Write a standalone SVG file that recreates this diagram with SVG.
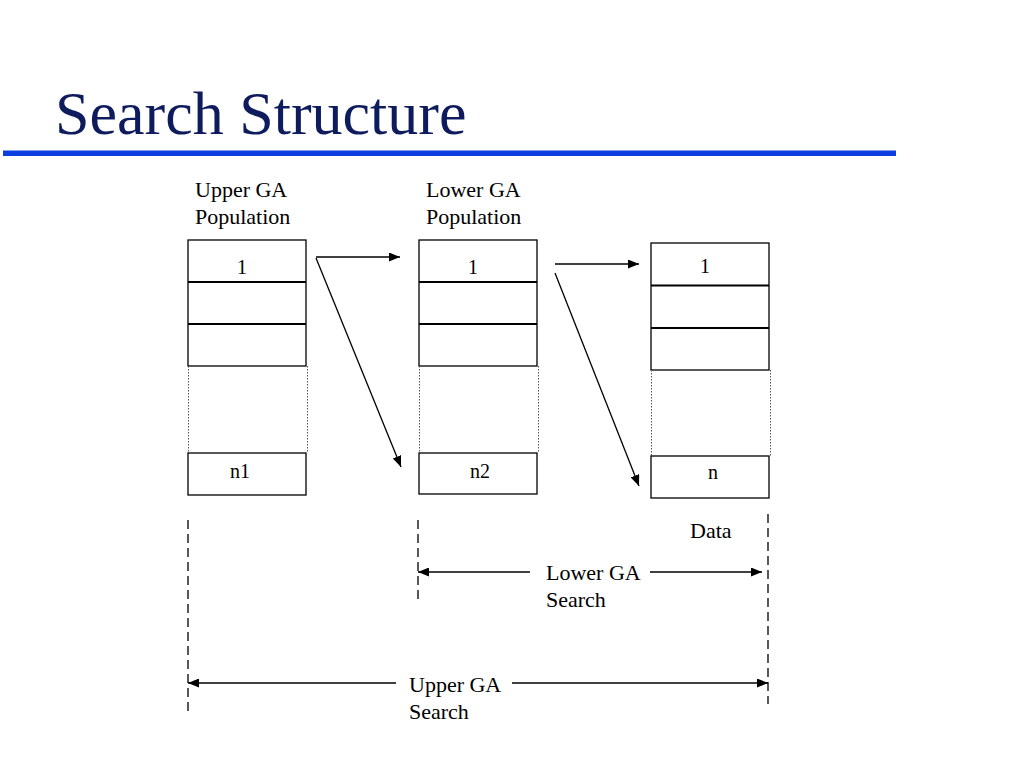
<svg xmlns="http://www.w3.org/2000/svg" width="1024" height="768" viewBox="0 0 1024 768">
<style>
  .t{font-family:"Liberation Serif","Times New Roman",serif;font-size:22px;fill:#000}
  .c{text-anchor:middle;font-size:20px}
  .box{fill:#fff;stroke:#000;stroke-width:1.3}
  .sep{stroke:#000;stroke-width:2.2}
  .dot{stroke:#555;stroke-width:1;stroke-dasharray:1.5 1.5;fill:none}
  .dash{stroke:#000;stroke-width:1.3;stroke-dasharray:9 5;fill:none}
  .ar{stroke:#000;stroke-width:1.3;fill:none;marker-end:url(#ah)}
  .ln{stroke:#000;stroke-width:1.3;fill:none}
</style>
<defs>
  <marker id="ah" viewBox="0 0 11 9" refX="11" refY="4.5" markerWidth="11" markerHeight="9" markerUnits="userSpaceOnUse" orient="auto-start-reverse">
    <path d="M0,0 L11,4.5 L0,9 Z" fill="#000"/>
  </marker>
</defs>
<rect width="1024" height="768" fill="#fff"/>
<g id="title">
  <text x="55" y="134" style="font-family:'Liberation Serif','Times New Roman',serif;font-size:62px;fill:#0e1c5e">Search Structure</text>
  <rect x="3" y="150.5" width="893" height="5.5" fill="#0b3fe0"/>
</g>
<g id="upper-population">
  <text class="t" x="195" y="197">Upper GA</text>
  <text class="t" x="195" y="224">Population</text>
  <rect class="box" x="188" y="240" width="118" height="126"/>
  <line class="sep" x1="188" y1="282" x2="306" y2="282"/>
  <line class="sep" x1="188" y1="324" x2="306" y2="324"/>
  <line class="dot" x1="188.5" y1="366" x2="188.5" y2="453"/>
  <line class="dot" x1="307.5" y1="366" x2="307.5" y2="453"/>
  <rect class="box" x="188" y="453" width="118" height="42"/>
  <text class="t c" x="242" y="274">1</text>
  <text class="t c" x="240" y="478">n1</text>
</g>
<g id="lower-population">
  <text class="t" x="426" y="197">Lower GA</text>
  <text class="t" x="426" y="224">Population</text>
  <rect class="box" x="419" y="240" width="118" height="126"/>
  <line class="sep" x1="419" y1="282" x2="537" y2="282"/>
  <line class="sep" x1="419" y1="324" x2="537" y2="324"/>
  <line class="dot" x1="419.5" y1="366" x2="419.5" y2="453"/>
  <line class="dot" x1="538.5" y1="366" x2="538.5" y2="453"/>
  <rect class="box" x="419" y="453" width="118" height="41"/>
  <text class="t c" x="473" y="274">1</text>
  <text class="t c" x="480" y="478">n2</text>
</g>
<g id="data">
  <rect class="box" x="651" y="243" width="118" height="127"/>
  <line class="sep" x1="651" y1="285.5" x2="769" y2="285.5"/>
  <line class="sep" x1="651" y1="328" x2="769" y2="328"/>
  <line class="dot" x1="651.5" y1="370" x2="651.5" y2="456"/>
  <line class="dot" x1="770.5" y1="370" x2="770.5" y2="456"/>
  <rect class="box" x="651" y="456" width="118" height="42"/>
  <text class="t c" x="705" y="273">1</text>
  <text class="t c" x="713" y="479">n</text>
  <text class="t" x="690" y="538">Data</text>
</g>
<g id="connectors">
  <line class="ar" x1="316" y1="257" x2="400" y2="257"/>
  <line class="ar" x1="316" y1="258" x2="401" y2="467"/>
  <line class="ar" x1="555" y1="264" x2="639" y2="264"/>
  <line class="ar" x1="555" y1="273" x2="639" y2="486"/>
</g>
<g id="spans">
  <line class="dash" x1="188" y1="520" x2="188" y2="712"/>
  <line class="dash" x1="418" y1="520" x2="418" y2="604"/>
  <line class="dash" x1="768" y1="514" x2="768" y2="704"/>
  <line class="ln" x1="418" y1="572" x2="530" y2="572" marker-start="url(#ah)"/>
  <line class="ln" x1="650" y1="572" x2="762" y2="572" marker-end="url(#ah)"/>
  <text class="t" x="546" y="580">Lower GA</text>
  <text class="t" x="546" y="607">Search</text>
  <line class="ln" x1="188" y1="683" x2="396" y2="683" marker-start="url(#ah)"/>
  <line class="ln" x1="512" y1="683" x2="768" y2="683" marker-end="url(#ah)"/>
  <text class="t" x="409" y="692">Upper GA</text>
  <text class="t" x="409" y="719">Search</text>
</g>
</svg>
